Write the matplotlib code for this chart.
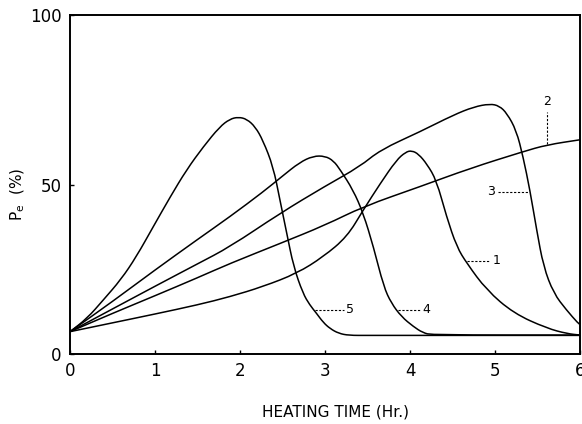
import matplotlib
matplotlib.use("Agg")
import matplotlib.pyplot as plt
from matplotlib.path import Path
from matplotlib.patches import PathPatch

plt.rcParams['font.family'] = ['DejaVu Sans']

# Curve data (time in hours, Pe in %)
x1 = [0, 0.5, 1.0, 1.5, 1.88, 2.27, 2.67, 2.98, 3.26, 3.45, 3.65, 3.84, 3.95, 4.02, 4.1, 4.2, 4.31, 4.43, 4.55, 4.67, 4.9, 5.22, 5.61, 5.85, 6.0]
y1 = [6.6, 9.2, 11.8, 14.5, 16.9, 19.9, 23.8, 28.7, 34.6, 42.5, 50.3, 57.2, 59.6, 60.0, 59.0, 56.0, 51.3, 40.5, 31.6, 26.7, 18.9, 12.0, 7.6, 6.0, 5.6]

x2 = [0, 0.5, 1.0, 1.5, 1.88, 2.47, 3.0, 3.45, 4.12, 4.71, 5.33, 5.61, 6.0]
y2 = [6.6, 12.0, 17.2, 22.5, 26.7, 32.6, 38.0, 43.5, 49.4, 54.8, 59.7, 61.7, 63.2]

x3 = [0, 0.5, 1.0, 1.5, 1.88, 2.47, 3.0, 3.41, 3.65, 4.12, 4.51, 4.75, 4.94, 5.05, 5.14, 5.25, 5.33, 5.41, 5.49, 5.57, 5.69, 5.84, 5.98, 6.0]
y3 = [6.6, 13.3, 20.0, 26.6, 31.6, 41.5, 49.5, 55.3, 60.2, 65.6, 70.5, 72.9, 73.8, 73.2, 71.0, 66.0, 58.2, 48.4, 36.6, 25.8, 17.9, 13.0, 9.0, 8.8]

x4 = [0, 0.5, 1.0, 1.5, 1.88, 2.27, 2.5, 2.7, 2.86, 3.0, 3.1, 3.18, 3.33, 3.45, 3.57, 3.69, 3.78, 3.9, 4.04, 4.15, 4.26, 6.0]
y4 = [6.6, 15.5, 24.8, 33.8, 40.5, 47.8, 52.5, 56.5, 58.4, 58.4, 57.0, 54.3, 48.4, 41.5, 31.6, 19.9, 15.0, 11.0, 8.1, 6.3, 5.6, 5.6]

x5 = [0, 0.2, 0.39, 0.6, 0.78, 0.98, 1.18, 1.37, 1.57, 1.76, 1.88, 1.98, 2.08, 2.18, 2.27, 2.39, 2.47, 2.55, 2.63, 2.74, 2.82, 2.9, 2.98, 3.06, 3.16, 3.28, 3.5, 6.0]
y5 = [6.6, 10.5, 15.9, 22.0, 28.7, 37.6, 46.4, 54.3, 61.2, 67.0, 69.3, 69.9, 69.3, 67.0, 63.0, 55.3, 45.4, 35.6, 25.8, 17.9, 14.5, 12.0, 9.3, 7.5, 6.1, 5.5, 5.5, 5.5]

curves = [(x1, y1), (x2, y2), (x3, y3), (x4, y4), (x5, y5)]

xticks = [0, 1, 2, 3, 4, 5, 6]
yticks = [0, 50, 100]


def smooth_path(xs, ys):
    # quadratic Bezier path through segment midpoints (rendering style only)
    pts = list(zip(xs, ys))
    verts = [pts[0]]
    codes = [Path.MOVETO]
    mids = [((pts[i][0] + pts[i + 1][0]) / 2, (pts[i][1] + pts[i + 1][1]) / 2)
            for i in range(len(pts) - 1)]
    verts.append(mids[0]); codes.append(Path.LINETO)
    for i in range(1, len(pts) - 1):
        verts.append(pts[i]); codes.append(Path.CURVE3)
        verts.append(mids[i]); codes.append(Path.CURVE3)
    verts.append(pts[-1]); codes.append(Path.LINETO)
    return Path(verts, codes)


fig = plt.figure(figsize=(5.82, 4.24), dpi=100)
ax = fig.add_axes([0.1203, 0.165, 0.8763, 0.7996])

for xs, ys in curves:
    ax.add_patch(PathPatch(smooth_path(xs, ys), facecolor='none',
                           edgecolor='black', lw=1.1, transform=ax.transData))

# curve labels with dashed leaders
lead = dict(color='black', lw=0.8, linestyle=(0, (2, 1.5)))
ax.plot([2.88, 3.22], [13.0, 13.0], **lead)
ax.text(3.25, 13.0, '5', ha='left', va='center', fontsize=9)
ax.plot([3.86, 4.12], [13.0, 13.0], **lead)
ax.text(4.15, 13.0, '4', ha='left', va='center', fontsize=9)
ax.plot([4.67, 4.94], [27.5, 27.5], **lead)
ax.text(4.97, 27.5, '1', ha='left', va='center', fontsize=9)
ax.plot([5.03, 5.39], [47.9, 47.9], **lead)
ax.text(5.0, 47.9, '3', ha='right', va='center', fontsize=9)
ax.plot([5.61, 5.61], [62.1, 71.5], **lead)
ax.text(5.61, 72.5, '2', ha='center', va='bottom', fontsize=9)

ax.set_xlim(0, 6)
ax.set_ylim(0, 100)
ax.set_xticks(xticks)
ax.set_yticks(yticks)
ax.tick_params(direction='in', length=3, width=1, labelsize=12, pad=6)
for s in ax.spines.values():
    s.set_linewidth(1.4)

ax.set_xlabel('HEATING TIME (Hr.)', fontsize=11)
ax.xaxis.set_label_coords(0.52, -0.148)
ax.set_ylabel('P$_\\mathregular{e}$  (%)', fontsize=11)
ax.yaxis.set_label_coords(-0.085, 0.47)

fig.savefig('out.png', dpi=100)
